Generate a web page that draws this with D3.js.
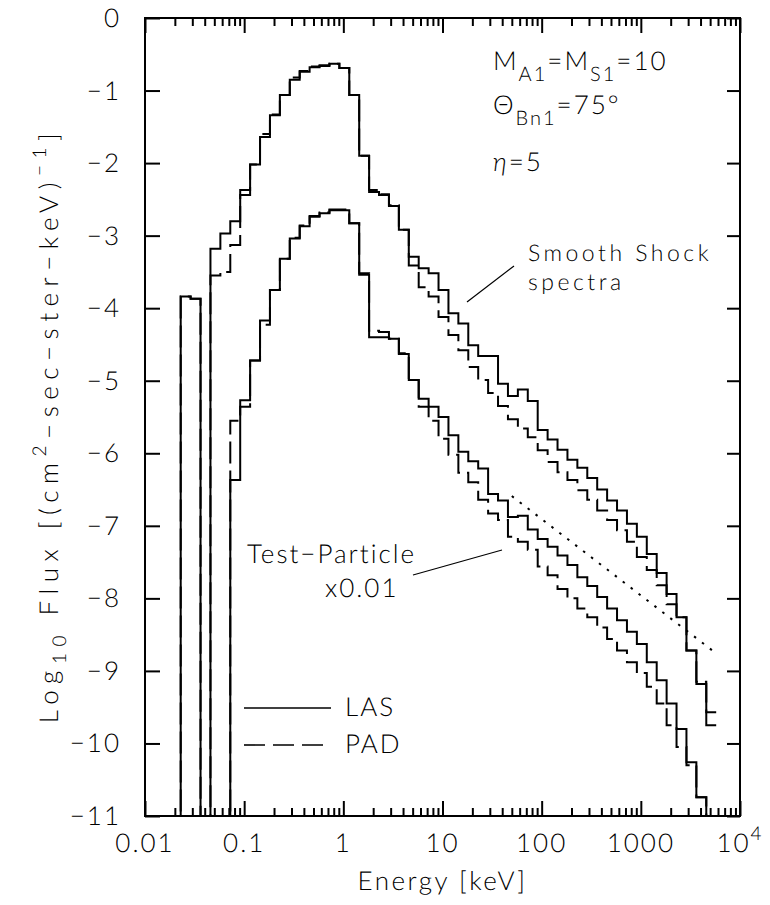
<!DOCTYPE html>
<html>
<head>
<meta charset="utf-8">
<script src="https://cdn.jsdelivr.net/npm/d3@7"></script>
<style>
  html, body { margin: 0; padding: 0; background: #fff; }
  svg text { font-family: Lato, "Liberation Sans", sans-serif; font-weight: 300; fill: #000; text-rendering: geometricPrecision; }
</style>
</head>
<body>
<div id="chart"></div>
<script>
// log10(E/keV) of the histogram bin edges
const binEdges = [-1.74, -1.64, -1.54, -1.44, -1.34, -1.24, -1.14, -1.04, -0.94, -0.84,
  -0.74, -0.64, -0.54, -0.44, -0.34, -0.24, -0.14, -0.04, 0.06, 0.16,
  0.26, 0.36, 0.46, 0.56, 0.66, 0.76, 0.86, 0.96, 1.06, 1.16,
  1.26, 1.36, 1.46, 1.56, 1.66, 1.76, 1.86, 1.96, 2.06, 2.16,
  2.26, 2.36, 2.46, 2.56, 2.66, 2.76, 2.86, 2.96, 3.06, 3.16,
  3.26, 3.36, 3.46, 3.56, 3.66, 3.76];

// log10 flux per bin (-12 = below the plot floor, null = not drawn)
const smoothLAS = [-12, -3.84, -3.87, -12, -3.18, -2.97, -2.80, -2.44, -2.02, -1.64,
  -1.34, -1.06, -0.85, -0.74, -0.68, -0.66, -0.63, -0.69, -1.06, -1.90,
  -2.40, -2.44, -2.59, -2.92, -3.29, -3.45, -3.52, -3.75, -4.07, -4.21,
  -4.51, -4.66, -4.66, -5.04, -5.21, -5.12, -5.28, -5.68, -5.81, -5.95,
  -6.09, -6.20, -6.34, -6.50, -6.65, -6.79, -6.97, -7.15, -7.39, -7.65,
  -7.94, -8.26, -8.72, -9.18, -9.75];
const smoothPAD = [-12, -3.84, -3.87, -12, -3.55, -3.50, -3.13, -2.37, -2.02, -1.60,
  -1.33, -1.06, -0.82, -0.73, -0.67, -0.65, -0.63, -0.69, -1.06, -1.90,
  -2.37, -2.43, -2.58, -2.92, -3.41, -3.71, -3.84, -4.12, -4.37, -4.58,
  -4.81, -4.99, -5.17, -5.35, -5.53, -5.66, -5.78, -5.96, -6.12, -6.26,
  -6.37, -6.51, -6.64, -6.79, -6.92, -7.06, -7.22, -7.43, -7.61, -7.82,
  -8.08, -8.26, -8.72, -9.15, -9.57];
const testLAS = [null, null, null, null, null, -12, -6.37, -5.27, -4.72, -4.17,
  -3.75, -3.32, -3.04, -2.87, -2.74, -2.69, -2.65, -2.65, -2.83, -3.54,
  -4.40, -4.40, -4.42, -4.63, -4.99, -5.25, -5.36, -5.50, -5.75, -5.98,
  -6.11, -6.21, -6.56, -6.65, -6.88, -6.86, -7.05, -7.18, -7.29, -7.41,
  -7.54, -7.71, -7.83, -7.98, -8.14, -8.30, -8.46, -8.63, -8.88, -9.13,
  -9.45, -9.80, -10.26, -10.74, -12];
const testPAD = [null, null, null, null, null, -12, -5.55, -5.36, -4.72, -4.23,
  -3.75, -3.32, -3.03, -2.86, -2.73, -2.68, -2.64, -2.64, -2.83, -3.52,
  -4.31, -4.33, -4.42, -4.62, -4.99, -5.36, -5.55, -5.80, -6.02, -6.27,
  -6.40, -6.64, -6.83, -6.92, -7.15, -7.22, -7.33, -7.56, -7.68, -7.87,
  -8.00, -8.14, -8.26, -8.40, -8.56, -8.72, -8.88, -9.03, -9.22, -9.45,
  -9.75, -10.05, -10.30, -10.74, -12];

// dotted reference power law
const refLineE = [50, 5400];
const refLineFlux = [-6.59, -8.73];

const xTickValues = [0.01, 0.1, 1, 10, 100, 1000, 10000];
const xTickLabels = ['0.01', '0.1', '1', '10', '100', '1000', '10^4'];
const yTickValues = [0, -1, -2, -3, -4, -5, -6, -7, -8, -9, -10, -11];

const width = 770, height = 905;
const margin = { top: 18, right: 30, bottom: 89, left: 145 };

const svg = d3.select('#chart').append('svg')
  .attr('width', width)
  .attr('height', height);

const x = d3.scaleLog().domain([0.01, 1e4]).range([margin.left, width - margin.right]);
const y = d3.scaleLinear().domain([-11, 0]).range([height - margin.bottom, margin.top]);

svg.append('defs').append('clipPath').attr('id', 'plot-clip')
  .append('rect')
    .attr('x', x.range()[0])
    .attr('y', y(0))
    .attr('width', x.range()[1] - x.range()[0])
    .attr('height', y(-11) - y(0));

// histograms
const stepLine = d3.line()
  .defined(d => d.v !== null)
  .x(d => x(d.e))
  .y(d => y(d.v))
  .curve(d3.curveStepAfter);

function toPoints(vals) {
  const pts = vals.map((v, i) => ({ e: Math.pow(10, binEdges[i]), v: v }));
  pts.push({ e: Math.pow(10, binEdges[vals.length]), v: vals[vals.length - 1] });
  return pts;
}

const plot = svg.append('g').attr('clip-path', 'url(#plot-clip)');
const dashPattern = '22,7';

[
  { vals: smoothPAD, dash: dashPattern },
  { vals: testPAD, dash: dashPattern },
  { vals: smoothLAS, dash: null },
  { vals: testLAS, dash: null }
].forEach(s => {
  plot.append('path')
    .attr('d', stepLine(toPoints(s.vals)))
    .attr('fill', 'none')
    .attr('stroke', '#000')
    .attr('stroke-width', 2)
    .attr('stroke-dasharray', s.dash);
});

plot.append('path')
  .attr('d', d3.line().x(d => x(d[0])).y(d => y(d[1]))(refLineE.map((e, i) => [e, refLineFlux[i]])))
  .attr('fill', 'none')
  .attr('stroke', '#000')
  .attr('stroke-width', 2)
  .attr('stroke-dasharray', '2.5,7.5');

// axes
const minorX = x.ticks().filter(v => xTickValues.indexOf(v) < 0);
function styleAxis(g) {
  g.select('.domain').remove();
  g.selectAll('.tick line').attr('stroke', '#000').attr('stroke-width', 2);
}
svg.append('g').attr('transform', `translate(0,${y(-11)})`)
  .call(d3.axisBottom(x).tickValues(xTickValues).tickSize(-15).tickFormat(''))
  .call(styleAxis);
svg.append('g').attr('transform', `translate(0,${y(-11)})`)
  .call(d3.axisBottom(x).tickValues(minorX).tickSize(-8).tickFormat(''))
  .call(styleAxis);
svg.append('g').attr('transform', `translate(0,${y(0)})`)
  .call(d3.axisTop(x).tickValues(xTickValues).tickSize(-15).tickFormat(''))
  .call(styleAxis);
svg.append('g').attr('transform', `translate(0,${y(0)})`)
  .call(d3.axisTop(x).tickValues(minorX).tickSize(-8).tickFormat(''))
  .call(styleAxis);
svg.append('g').attr('transform', `translate(${x.range()[0]},0)`)
  .call(d3.axisLeft(y).tickValues(yTickValues).tickSize(-15).tickFormat(''))
  .call(styleAxis);
svg.append('g').attr('transform', `translate(${x.range()[1]},0)`)
  .call(d3.axisRight(y).tickValues(yTickValues).tickSize(-13).tickFormat(''))
  .call(styleAxis);

svg.append('rect')
  .attr('x', x.range()[0])
  .attr('y', y(0))
  .attr('width', x.range()[1] - x.range()[0])
  .attr('height', y(-11) - y(0))
  .attr('fill', 'none')
  .attr('stroke', '#000')
  .attr('stroke-width', 2);

// tick labels
const fs = 26;
svg.append('g').selectAll('text')
  .data(xTickValues)
  .enter().append('text')
    .attr('x', d => x(d))
    .attr('y', y(-11) + 36)
    .attr('text-anchor', 'middle')
    .attr('font-size', fs)
    .attr('letter-spacing', 2)
    .each(function (d, i) {
      const lab = xTickLabels[i];
      const t = d3.select(this);
      if (lab.indexOf('^') > 0) {
        const parts = lab.split('^');
        t.append('tspan').text(parts[0]);
        t.append('tspan').attr('dy', -12).attr('font-size', 19).text(parts[1]);
      } else {
        t.text(lab);
      }
    });

svg.append('g').selectAll('text')
  .data(yTickValues)
  .enter().append('text')
    .attr('x', x.range()[0] - 24)
    .attr('y', d => y(d) + 9)
    .attr('text-anchor', 'end')
    .attr('font-size', fs)
    .attr('letter-spacing', 2)
    .text(d => d === 0 ? '0' : '\u2212' + Math.abs(d));

// axis titles
svg.append('text')
  .attr('x', (x.range()[0] + x.range()[1]) / 2)
  .attr('y', y(-11) + 74)
  .attr('text-anchor', 'middle')
  .attr('font-size', fs)
  .attr('letter-spacing', 2.5)
  .text('Energy [keV]');

const yTitle = svg.append('text')
  .attr('transform', `translate(58,${(y(0) + y(-11)) / 2 + 8}) rotate(-90)`)
  .attr('text-anchor', 'middle')
  .attr('font-size', fs)
  .attr('letter-spacing', 6.5);
yTitle.append('tspan').text('Log');
yTitle.append('tspan').attr('dy', 8).attr('font-size', 19).text('10');
yTitle.append('tspan').attr('dy', -8).text(' Flux [(cm');
yTitle.append('tspan').attr('dy', -12).attr('font-size', 19).text('2');
yTitle.append('tspan').attr('dy', 12).text('\u2212sec\u2212ster\u2212keV)');
yTitle.append('tspan').attr('dy', -12).attr('font-size', 19).text('\u22121');
yTitle.append('tspan').attr('dy', 12).text(']');

// annotations
function richText(px, py, parts, size, spacing) {
  const base = size || fs;
  const t = svg.append('text')
    .attr('x', px).attr('y', py)
    .attr('font-size', base)
    .attr('letter-spacing', spacing || 2);
  let shift = 0;
  parts.forEach(p => {
    const target = p.sub ? 11 : 0;
    t.append('tspan')
      .attr('dy', target - shift)
      .attr('font-size', p.sub ? 20 : base)
      .attr('font-style', p.italic ? 'italic' : null)
      .text(p.t);
    shift = target;
  });
}
richText(493, 70, [{ t: 'M' }, { t: 'A1', sub: true }, { t: '=M' }, { t: 'S1', sub: true }, { t: '=10' }]);
richText(493, 114, [{ t: '\u0398' }, { t: 'Bn1', sub: true }, { t: '=75\u00b0' }]);
richText(493, 171, [{ t: '\u03b7', italic: true }, { t: '=5' }]);
richText(528, 261, [{ t: 'Smooth Shock' }], 23, 3.5);
richText(528, 290, [{ t: 'spectra' }], 23, 3.5);
richText(247, 563, [{ t: 'Test\u2212Particle' }]);
richText(325, 597, [{ t: 'x0.01' }]);

[[514, 266, 467, 302], [413, 575, 502, 550]].forEach(l => {
  svg.append('line')
    .attr('x1', l[0]).attr('y1', l[1]).attr('x2', l[2]).attr('y2', l[3])
    .attr('stroke', '#000').attr('stroke-width', 1.2);
});

// legend
const legend = svg.append('g');
[{ name: 'LAS', dash: null, ly: 708 }, { name: 'PAD', dash: '21,8', ly: 745 }].forEach(d => {
  legend.append('line')
    .attr('x1', 244).attr('x2', 331).attr('y1', d.ly).attr('y2', d.ly)
    .attr('stroke', '#000').attr('stroke-width', 1.6)
    .attr('stroke-dasharray', d.dash);
  legend.append('text')
    .attr('x', 345).attr('y', d.ly + 8)
    .attr('font-size', fs)
    .attr('letter-spacing', 2)
    .text(d.name);
});
</script>
</body>
</html>
